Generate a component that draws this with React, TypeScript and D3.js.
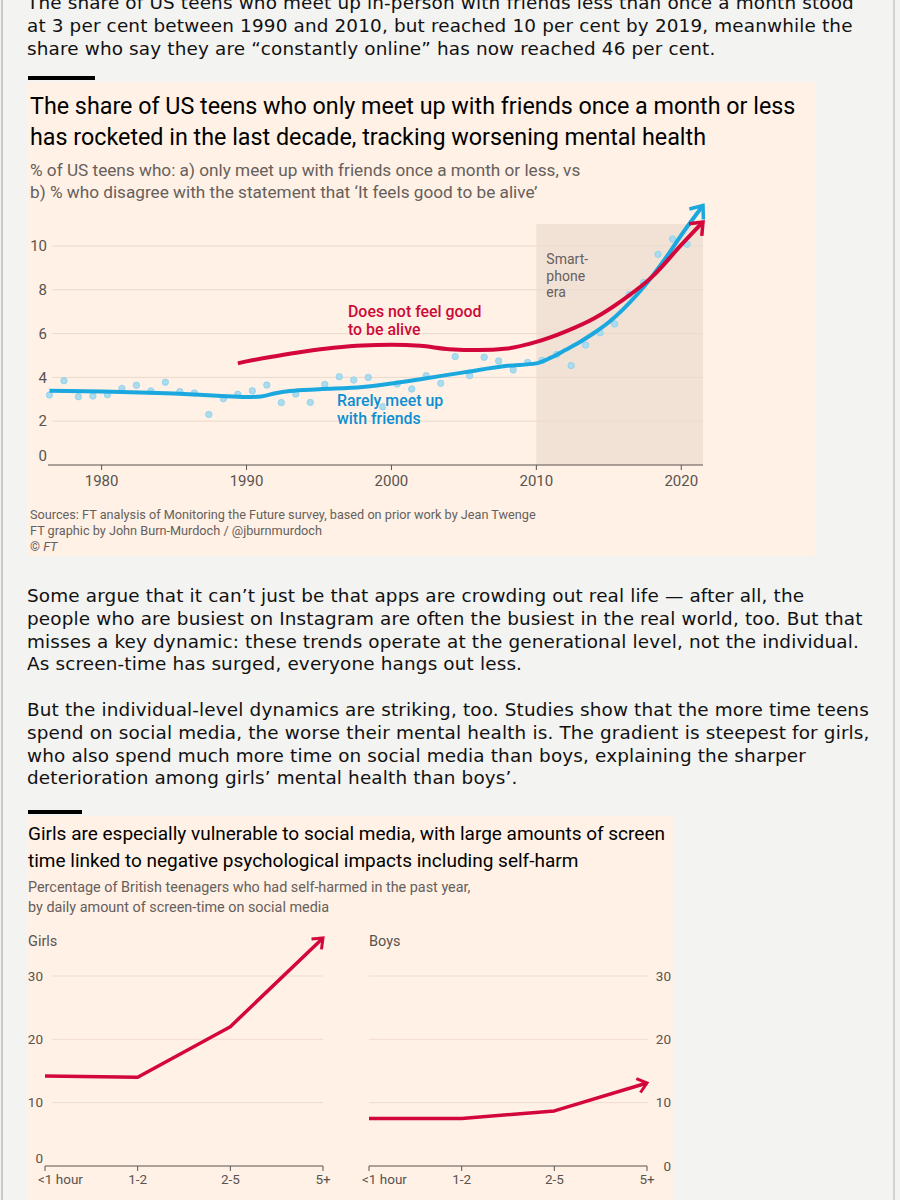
import React, { useEffect, useRef } from "react";
import * as d3 from "d3";

// chart 1: US teens, Monitoring the Future
const dotYears = d3.range(1976, 2021);
const meetValues = [
  3.2, 3.85, 3.12, 3.15, 3.21, 3.5, 3.64, 3.38, 3.78, 3.35, 3.29, 2.31, 3.03, 3.23, 3.39,
  3.65, 2.85, 3.24, 2.86, 3.68, 4.03, 3.88, 4.0, 2.66, 3.7, 3.47, 4.08, 3.73, 4.95, 4.08,
  4.92, 4.75, 4.34, 4.68, 4.77, 5.05, 4.54, 5.48, 6.04, 6.44, 7.78, 8.33, 9.62, 10.32, 10.08,
];
const meetTrendYears = [1976.4, 1980, 1985, 1988, 1990, 1991, 1992, 1993, 1995, 1998, 2000, 2002, 2005, 2008, 2010, 2011, 2012, 2013, 2014, 2015, 2016, 2017, 2018, 2019, 2020, 2021.5];
const meetTrendValues = [3.39, 3.36, 3.26, 3.16, 3.1, 3.13, 3.28, 3.38, 3.46, 3.56, 3.72, 3.92, 4.23, 4.53, 4.64, 4.9, 5.25, 5.62, 6.04, 6.52, 7.12, 7.82, 8.62, 9.52, 10.5, 11.85];
const aliveTrendYears = [1989.4, 1990, 1992, 1994, 1996, 1998, 2000, 2002, 2004, 2006, 2008, 2010, 2012, 2014, 2016, 2018, 2020, 2021.5];
const aliveTrendValues = [4.64, 4.73, 4.97, 5.18, 5.35, 5.46, 5.49, 5.44, 5.29, 5.25, 5.32, 5.62, 6.09, 6.7, 7.55, 8.6, 10.05, 11.1];
const yearTicks = [1980, 1990, 2000, 2010, 2020];
const pctTicks = [0, 2, 4, 6, 8, 10];
const smartphoneStart = 2010;

// chart 2: British teenagers, self-harm by screen time
const screenCats = ["<1 hour", "1-2", "2-5", "5+"];
const girlsValues = [14.2, 14.0, 22.0, 36.0];
const boysValues = [7.5, 7.5, 8.7, 13.1];
const harmTicks = [0, 10, 20, 30];

const topText = [
  "The share of US teens who meet up in-person with friends less than once a month stood",
  "at 3 per cent between 1990 and 2010, but reached 10 per cent by 2019, meanwhile the",
  "share who say they are \u201cconstantly online\u201d has now reached 46 per cent.",
];
const para1 = [
  "Some argue that it can\u2019t just be that apps are crowding out real life \u2014 after all, the",
  "people who are busiest on Instagram are often the busiest in the real world, too. But that",
  "misses a key dynamic: these trends operate at the generational level, not the individual.",
  "As screen-time has surged, everyone hangs out less.",
];
const para2 = [
  "But the individual-level dynamics are striking, too. Studies show that the more time teens",
  "spend on social media, the worse their mental health is. The gradient is steepest for girls,",
  "who also spend much more time on social media than boys, explaining the sharper",
  "deterioration among girls\u2019 mental health than boys\u2019.",
];

const PEACH = "#fff1e5";
const INK = "#5a534f";
const RED = "#d3073c";
const BLUE = "#1aa8df";
const CHART_FONT = "Roboto, sans-serif";
const BODY_FONT = "'DejaVu Sans', sans-serif";

const App: React.FC = () => {
  const svgRef = useRef<SVGSVGElement>(null);

  useEffect(() => {
    if (!svgRef.current) return;
    const svg = d3.select(svgRef.current);
    svg.selectAll("*").remove();

    const defs = svg.append("defs");
    const addArrow = (id: string, color: string, size: number, sw: number) => {
      defs
        .append("marker")
        .attr("id", id)
        .attr("markerUnits", "userSpaceOnUse")
        .attr("viewBox", "-20 -15 26 30")
        .attr("markerWidth", 26)
        .attr("markerHeight", 30)
        .attr("refX", 0)
        .attr("refY", 0)
        .attr("orient", "auto")
        .append("path")
        .attr("d", `M${-size},${-size * 0.8}L0,0L${-size},${size * 0.8}`)
        .attr("fill", "none")
        .attr("stroke", color)
        .attr("stroke-width", sw);
    };
    addArrow("arrow-blue", BLUE, 11, 3.5);
    addArrow("arrow-red", RED, 11, 3.5);
    addArrow("arrow-red-small", RED, 9, 3);

    // page
    svg.append("rect").attr("width", 900).attr("height", 1200).attr("fill", "#f3f3f1");
    svg.append("line").attr("x1", 2).attr("x2", 2).attr("y1", 0).attr("y2", 1200).attr("stroke", "#c9c9c6").attr("stroke-width", 2);
    svg.append("line").attr("x1", 894).attr("x2", 894).attr("y1", 0).attr("y2", 1200).attr("stroke", "#d3d3d0").attr("stroke-width", 2);

    const bodyLines = (lines: string[], y0: number) => {
      svg
        .append("g")
        .selectAll("text")
        .data(lines)
        .enter()
        .append("text")
        .attr("x", 27)
        .attr("y", (d, i) => y0 + i * 22.8)
        .attr("font-family", BODY_FONT)
        .attr("font-size", 18.4)
        .attr("letter-spacing", 0.15)
        .attr("fill", "#111")
        .text((d) => d);
    };
    bodyLines(topText, 9);
    bodyLines(para1, 602);
    bodyLines(para2, 716);

    // ---------- chart 1 ----------
    svg.append("rect").attr("x", 27).attr("y", 82).attr("width", 788).attr("height", 474).attr("fill", PEACH);
    svg.append("rect").attr("x", 28).attr("y", 76).attr("width", 67).attr("height", 4).attr("fill", "#000");

    const c1 = svg.append("g").attr("font-family", CHART_FONT);
    c1.selectAll(".title")
      .data([
        "The share of US teens who only meet up with friends once a month or less",
        "has rocketed in the last decade, tracking worsening mental health",
      ])
      .enter()
      .append("text")
      .attr("x", 30)
      .attr("y", (d, i) => 114 + i * 31)
      .attr("font-size", 23.3)
      .attr("fill", "#000")
      .text((d) => d);
    c1.selectAll(".sub")
      .data([
        "% of US teens who: a) only meet up with friends once a month or less, vs",
        "b) % who disagree with the statement that \u2018It feels good to be alive\u2019",
      ])
      .enter()
      .append("text")
      .attr("x", 30)
      .attr("y", (d, i) => 176 + i * 22)
      .attr("font-size", 17.2)
      .attr("fill", "#66605c")
      .text((d) => d);

    const x = d3.scaleLinear().domain([1976.3, 2021.5]).range([48, 703]);
    const y = d3.scaleLinear().domain([0, 10]).range([465, 246]);

    // smartphone era shading
    c1.append("rect")
      .attr("x", x(smartphoneStart))
      .attr("y", 224)
      .attr("width", x(2021.5) - x(smartphoneStart))
      .attr("height", y(0) - 224)
      .attr("fill", "#f2e2d6");

    c1.append("g")
      .selectAll("line")
      .data(pctTicks.filter((d) => d > 0))
      .enter()
      .append("line")
      .attr("x1", 52)
      .attr("x2", 703)
      .attr("y1", (d) => y(d))
      .attr("y2", (d) => y(d))
      .attr("stroke", "#ead9cc")
      .attr("stroke-width", 1);

    c1.append("g")
      .selectAll("text")
      .data(pctTicks)
      .enter()
      .append("text")
      .attr("x", 47)
      .attr("y", (d) => (d === 0 ? y(d) - 9 : y(d)))
      .attr("dy", "0.35em")
      .attr("text-anchor", "end")
      .attr("font-size", 15)
      .attr("fill", INK)
      .text((d) => d);

    c1.append("line").attr("x1", 48).attr("x2", 703).attr("y1", y(0)).attr("y2", y(0)).attr("stroke", INK).attr("stroke-width", 1.2);
    const xt = c1.append("g").selectAll("g").data(yearTicks).enter().append("g");
    xt.append("line")
      .attr("x1", (d) => x(d))
      .attr("x2", (d) => x(d))
      .attr("y1", y(0))
      .attr("y2", y(0) + 5)
      .attr("stroke", INK);
    xt.append("text")
      .attr("x", (d) => x(d))
      .attr("y", 486)
      .attr("text-anchor", "middle")
      .attr("font-size", 15)
      .attr("fill", INK)
      .text((d) => d);

    c1.selectAll(".era")
      .data(["Smart-", "phone", "era"])
      .enter()
      .append("text")
      .attr("x", x(smartphoneStart) + 10)
      .attr("y", (d, i) => 264 + i * 16.5)
      .attr("font-size", 14)
      .attr("fill", "#66605c")
      .text((d) => d);

    // scatter of survey years
    c1.append("g")
      .selectAll("circle")
      .data(dotYears.map((yr, i) => ({ yr, v: meetValues[i] })))
      .enter()
      .append("circle")
      .attr("cx", (d) => x(d.yr + 0.4))
      .attr("cy", (d) => y(d.v))
      .attr("r", 3.2)
      .attr("fill", "#abdbef")
      .attr("stroke", "#8ccfea")
      .attr("stroke-width", 0.8);

    const line1 = d3
      .line<[number, number]>()
      .x((d) => x(d[0]))
      .y((d) => y(d[1]))
      .curve(d3.curveMonotoneX);

    c1.append("path")
      .attr("d", line1(meetTrendYears.map((yr, i) => [yr, meetTrendValues[i]]))!)
      .attr("fill", "none")
      .attr("stroke", BLUE)
      .attr("stroke-width", 4)
      .attr("marker-end", "url(#arrow-blue)");
    c1.append("path")
      .attr("d", line1(aliveTrendYears.map((yr, i) => [yr, aliveTrendValues[i]]))!)
      .attr("fill", "none")
      .attr("stroke", RED)
      .attr("stroke-width", 4)
      .attr("marker-end", "url(#arrow-red)");

    const label = (lines: string[], lx: number, ly: number, color: string) => {
      c1.append("g")
        .selectAll("text")
        .data(lines)
        .enter()
        .append("text")
        .attr("x", lx)
        .attr("y", (d, i) => ly + i * 18)
        .attr("font-size", 15.9)
        .attr("font-weight", 500)
        .attr("fill", color)
        .attr("stroke", PEACH)
        .attr("stroke-width", 2)
        .attr("paint-order", "stroke")
        .text((d) => d);
    };
    label(["Does not feel good", "to be alive"], 348, 317, "#cc0a39");
    label(["Rarely meet up", "with friends"], 337, 406, "#0d8fd2");

    c1.selectAll(".src")
      .data([
        "Sources: FT analysis of Monitoring the Future survey, based on prior work by Jean Twenge",
        "FT graphic by John Burn-Murdoch / @jburnmurdoch",
      ])
      .enter()
      .append("text")
      .attr("x", 30)
      .attr("y", (d, i) => 519 + i * 16)
      .attr("font-size", 12.7)
      .attr("fill", "#66605c")
      .text((d) => d);
    const cr = c1.append("text").attr("x", 30).attr("y", 551).attr("font-size", 12.7).attr("fill", "#66605c");
    cr.append("tspan").text("\u00a9 ");
    cr.append("tspan").attr("font-style", "italic").text("FT");

    // ---------- chart 2 ----------
    svg.append("rect").attr("x", 27).attr("y", 816).attr("width", 646).attr("height", 384).attr("fill", PEACH);
    svg.append("rect").attr("x", 28).attr("y", 810).attr("width", 54).attr("height", 4).attr("fill", "#000");

    const c2 = svg.append("g").attr("font-family", CHART_FONT);
    c2.selectAll(".title")
      .data([
        "Girls are especially vulnerable to social media, with large amounts of screen",
        "time linked to negative psychological impacts including self-harm",
      ])
      .enter()
      .append("text")
      .attr("x", 28)
      .attr("y", (d, i) => 840 + i * 27)
      .attr("font-size", 19)
      .attr("fill", "#000")
      .text((d) => d);
    c2.selectAll(".sub")
      .data([
        "Percentage of British teenagers who had self-harmed in the past year,",
        "by daily amount of screen-time on social media",
      ])
      .enter()
      .append("text")
      .attr("x", 28)
      .attr("y", (d, i) => 892 + i * 20)
      .attr("font-size", 14.4)
      .attr("fill", "#66605c")
      .text((d) => d);

    const y2 = d3.scaleLinear().domain([0, 30]).range([1166, 976]);
    const panel = (
      name: string,
      values: number[],
      x0: number,
      x1: number,
      labelSide: "left" | "right",
    ) => {
      const xs = d3.scalePoint<string>().domain(screenCats).range([x0, x1]);
      const g = c2.append("g");
      g.append("text").attr("x", labelSide === "left" ? 28 : x0).attr("y", 946).attr("font-size", 14.5).attr("fill", INK).text(name);
      const gx0 = labelSide === "left" ? x0 + 7 : x0;
      const gx1 = labelSide === "left" ? x1 : x1 + 1;
      g.append("g")
        .selectAll("line")
        .data(harmTicks.filter((d) => d > 0))
        .enter()
        .append("line")
        .attr("x1", gx0)
        .attr("x2", gx1)
        .attr("y1", (d) => y2(d))
        .attr("y2", (d) => y2(d))
        .attr("stroke", "#f1dccf");
      g.append("g")
        .selectAll("text")
        .data(harmTicks)
        .enter()
        .append("text")
        .attr("x", labelSide === "left" ? x0 - 2 : x1 + 24)
        .attr("y", (d) => (d === 0 && labelSide === "left" ? y2(d) - 8 : y2(d)))
        .attr("dy", "0.35em")
        .attr("text-anchor", "end")
        .attr("font-size", 13.5)
        .attr("fill", INK)
        .text((d) => d);
      g.append("line").attr("x1", x0).attr("x2", x1).attr("y1", y2(0)).attr("y2", y2(0)).attr("stroke", INK);
      const t = g.append("g").selectAll("g").data(screenCats).enter().append("g");
      t.append("line")
        .attr("x1", (d) => xs(d)!)
        .attr("x2", (d) => xs(d)!)
        .attr("y1", y2(0))
        .attr("y2", y2(0) + 5)
        .attr("stroke", INK);
      t.append("text")
        .attr("x", (d, i) => (i === 0 ? xs(d)! - 7 : xs(d)!))
        .attr("y", 1184)
        .attr("text-anchor", (d, i) => (i === 0 ? "start" : "middle"))
        .attr("font-size", 13.5)
        .attr("fill", INK)
        .text((d) => d);
      const ln = d3
        .line<number>()
        .x((d, i) => xs(screenCats[i])!)
        .y((d) => y2(d));
      g.append("path")
        .attr("d", ln(values)!)
        .attr("fill", "none")
        .attr("stroke", RED)
        .attr("stroke-width", 3.5)
        .attr("stroke-linejoin", "round")
        .attr("marker-end", "url(#arrow-red-small)");
    };
    panel("Girls", girlsValues, 45, 323, "left");
    panel("Boys", boysValues, 369, 647, "right");
  }, []);

  return (
    <div style={{ position: "absolute", left: 0, top: 0 }}>
      <svg ref={svgRef} width={900} height={1200} style={{ display: "block" }} />
    </div>
  );
};

export default App;
